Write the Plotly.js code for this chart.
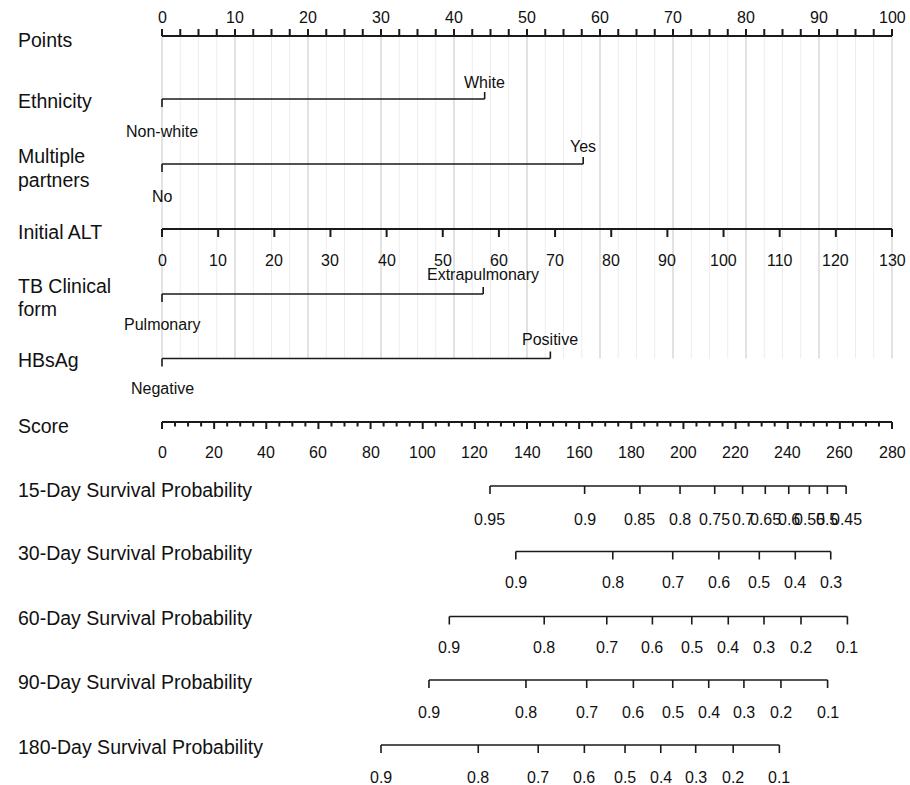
<!DOCTYPE html>
<html>
<head>
<meta charset="utf-8">
<script src="https://cdn.plot.ly/plotly-3.0.1.min.js"></script>
<style>html,body{margin:0;padding:0;background:#fff;}#chart{width:910px;height:785px;}</style>
</head>
<body>
<div id="chart"></div>
<script>
// ---------------- DATA ----------------
const pointsTickLabels = [0, 10, 20, 30, 40, 50, 60, 70, 80, 90, 100];
const pointsMinorStep = 2.5;

const ethnicityLevels = ["Non-white", "White"];
const ethnicityPoints = [0, 44.2];

const partnersLevels = ["No", "Yes"];
const partnersPoints = [0, 57.7];

const altTickLabels = [0, 10, 20, 30, 40, 50, 60, 70, 80, 90, 100, 110, 120, 130];
const altMaxValue = 130;      // ALT value reaching 100 points

const tbLevels = ["Pulmonary", "Extrapulmonary"];
const tbPoints = [0, 44.0];

const hbsLevels = ["Negative", "Positive"];
const hbsPoints = [0, 53.2];

const scoreTickLabels = [0, 20, 40, 60, 80, 100, 120, 140, 160, 180, 200, 220, 240, 260, 280];
const scoreMinorStep = 5;
const scoreMax = 280;          // total score aligned with 100 points

const surv15Labels = ["0.95", "0.9", "0.85", "0.8", "0.75", "0.7", "0.65", "0.6", "0.55", "0.5", "0.45"];
const surv15Score  = [125.8, 162.1, 183.3, 198.7, 212.0, 222.7, 231.4, 240.4, 248.3, 255.2, 262.4];

const surv30Labels = ["0.9", "0.8", "0.7", "0.6", "0.5", "0.4", "0.3"];
const surv30Score  = [135.7, 172.9, 195.9, 213.6, 229.1, 242.9, 256.5];

const surv60Labels = ["0.9", "0.8", "0.7", "0.6", "0.5", "0.4", "0.3", "0.2", "0.1"];
const surv60Score  = [110.2, 146.6, 170.6, 188.1, 203.2, 217.2, 230.9, 245.1, 262.9];

const surv90Labels = ["0.9", "0.8", "0.7", "0.6", "0.5", "0.4", "0.3", "0.2", "0.1"];
const surv90Score  = [102.4, 139.6, 162.9, 180.8, 195.9, 209.7, 223.2, 237.4, 255.3];

const surv180Labels = ["0.9", "0.8", "0.7", "0.6", "0.5", "0.4", "0.3", "0.2", "0.1"];
const surv180Score  = [84.0, 121.3, 144.3, 162.0, 177.6, 191.3, 204.7, 219.1, 236.8];

// ---------------- LAYOUT CONSTANTS ----------------
const W = 910, H = 785;
const X0 = 162, PXPERPT = 7.3;
const FONT = "Liberation Sans, Arial, sans-serif";
const INK = "#1a1a1a";
const LABEL_SIZE = 19.5, TICK_SIZE = 16;

const rows = {
  points: {line: 36, label: 40},
  eth: {line: 99, label: 101, up: 82, down: 131},
  mp: {line: 164, label1: 156, label2: 180, up: 146.5, down: 196},
  alt: {line: 229, label: 232, tick: 260},
  tb: {line: 294, label1: 286, label2: 309, up: 274, down: 324},
  hbs: {line: 358.5, label: 360, up: 339, down: 388},
  score: {line: 422, label: 426, tick: 452},
  s15: {line: 486, label: 490, tick: 519, title: "15-Day Survival Probability"},
  s30: {line: 551.5, label: 553, tick: 582, title: "30-Day Survival Probability"},
  s60: {line: 616.5, label: 618, tick: 647, title: "60-Day Survival Probability"},
  s90: {line: 680, label: 682, tick: 712, title: "90-Day Survival Probability"},
  s180: {line: 745, label: 747, tick: 777, title: "180-Day Survival Probability"}
};

const traces = [];
const annotations = [];

function lineTrace(xs, ys, width, color) {
  traces.push({x: xs, y: ys, mode: "lines", type: "scatter", hoverinfo: "skip",
    showlegend: false, line: {color: color || INK, width: width}});
}
function txt(x, y, text, size, opts) {
  annotations.push(Object.assign({x: x, y: y, xref: "x", yref: "y", text: text, showarrow: false,
    xanchor: "center", yanchor: "middle", font: {family: FONT, size: size, color: "#111"}}, opts || {}));
}
function rowLabel(y, text) {
  annotations.push({x: 16 / W, y: y, xref: "paper", yref: "y", text: text, showarrow: false,
    xanchor: "left", yanchor: "middle", font: {family: FONT, size: LABEL_SIZE, color: "#111"}});
}
const scoreToPts = s => s * 100 / scoreMax;

// ---------------- GRID ----------------
(function () {
  const minX = [], minY = [], majX = [], majY = [];
  for (let v = 0; v <= 100 + 1e-9; v += pointsMinorStep) {
    const isMajor = pointsTickLabels.indexOf(v) >= 0;
    const ax = isMajor ? majX : minX, ay = isMajor ? majY : minY;
    ax.push(v, v, null); ay.push(rows.points.line, rows.hbs.line, null);
  }
  lineTrace(minX, minY, 1, "#ededed");
  lineTrace(majX, majY, 1.2, "#cfcfcf");
})();

// ---------------- POINTS AXIS ----------------
(function () {
  const xs = [0, 100, null], ys = [rows.points.line, rows.points.line, null];
  for (let v = 0; v <= 100 + 1e-9; v += pointsMinorStep) {
    xs.push(v, v, null); ys.push(rows.points.line, rows.points.line - 7, null);
  }
  lineTrace(xs, ys, 2);
  pointsTickLabels.forEach(v => txt(v, 17, String(v), TICK_SIZE));
  rowLabel(rows.points.label, "Points");
})();

// ---------------- CATEGORICAL ROWS ----------------
function catRow(r, levels, pts) {
  const y = r.line;
  lineTrace([pts[0], pts[1], null, pts[0], pts[0], null, pts[1], pts[1]],
            [y, y, null, y, y + 8, null, y, y - 7], 1.6);
  txt(pts[0], r.down, levels[0], TICK_SIZE);
  txt(pts[1], r.up, levels[1], TICK_SIZE);
}
catRow(rows.eth, ethnicityLevels, ethnicityPoints);
rowLabel(rows.eth.label, "Ethnicity");
catRow(rows.mp, partnersLevels, partnersPoints);
rowLabel(rows.mp.label1, "Multiple");
rowLabel(rows.mp.label2, "partners");
catRow(rows.tb, tbLevels, tbPoints);
rowLabel(rows.tb.label1, "TB Clinical");
rowLabel(rows.tb.label2, "form");
catRow(rows.hbs, hbsLevels, hbsPoints);
rowLabel(rows.hbs.label, "HBsAg");

// ---------------- INITIAL ALT ----------------
(function () {
  const y = rows.alt.line;
  const xs = [0, 100, null], ys = [y, y, null];
  altTickLabels.forEach(v => {
    const p = v * 100 / altMaxValue;
    xs.push(p, p, null); ys.push(y, y + 8, null);
    txt(p, rows.alt.tick, String(v), TICK_SIZE);
  });
  lineTrace(xs, ys, 2);
  rowLabel(rows.alt.label, "Initial ALT");
})();

// ---------------- SCORE ----------------
(function () {
  const y = rows.score.line;
  const xs = [0, 100, null], ys = [y, y, null];
  for (let s = 0; s <= scoreMax + 1e-9; s += scoreMinorStep) {
    const major = scoreTickLabels.indexOf(s) >= 0;
    const p = scoreToPts(s);
    xs.push(p, p, null); ys.push(y, y + (major ? 7 : 4.5), null);
  }
  lineTrace(xs, ys, 2);
  scoreTickLabels.forEach(s => txt(scoreToPts(s), rows.score.tick, String(s), TICK_SIZE));
  rowLabel(rows.score.label, "Score");
})();

// ---------------- SURVIVAL AXES ----------------
function survRow(r, labels, scores) {
  const y = r.line;
  const pts = scores.map(scoreToPts);
  const xs = [pts[0], pts[pts.length - 1], null], ys = [y, y, null];
  pts.forEach((p, i) => {
    xs.push(p, p, null); ys.push(y, y + 8, null);
    txt(p, r.tick, labels[i], TICK_SIZE);
  });
  lineTrace(xs, ys, 1.6);
  rowLabel(r.label, r.title);
}
survRow(rows.s15, surv15Labels, surv15Score);
survRow(rows.s30, surv30Labels, surv30Score);
survRow(rows.s60, surv60Labels, surv60Score);
survRow(rows.s90, surv90Labels, surv90Score);
survRow(rows.s180, surv180Labels, surv180Score);

const layout = {
  width: W, height: H,
  margin: {l: 0, r: 0, t: 0, b: 0, pad: 0},
  paper_bgcolor: "#ffffff", plot_bgcolor: "#ffffff",
  xaxis: {range: [-X0 / PXPERPT, (W - X0) / PXPERPT], visible: false, fixedrange: true},
  yaxis: {range: [H, 0], visible: false, fixedrange: true},
  annotations: annotations,
  showlegend: false
};
Plotly.newPlot("chart", traces, layout, {staticPlot: true, displayModeBar: false});
</script>
</body>
</html>
